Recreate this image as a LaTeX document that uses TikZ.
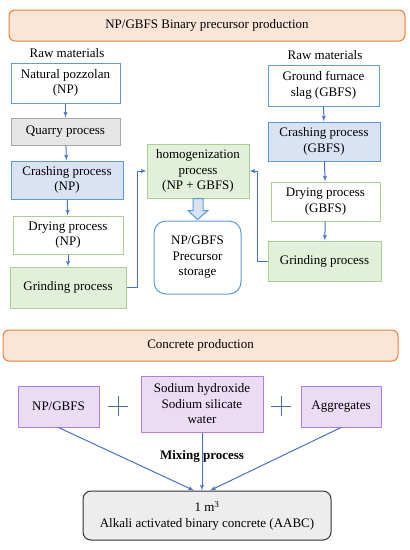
\documentclass[tikz,border=0pt]{standalone}
\usepackage{fontspec}
\setmainfont{Liberation Serif}
\usetikzlibrary{shapes,positioning,arrows,calc}

\definecolor{orangeline}{HTML}{ED7D31}
\definecolor{orangefill}{HTML}{FBE5D6}
\definecolor{blueline}{HTML}{5B9BD5}
\definecolor{bluefill}{HTML}{DAE3F3}
\definecolor{greenline}{HTML}{A9D18E}
\definecolor{greenfill}{HTML}{E2F0D9}
\definecolor{greyline}{HTML}{A6A6A6}
\definecolor{greyfill}{HTML}{E7E6E6}
\definecolor{purpleline}{HTML}{B77BE0}
\definecolor{purplefill}{HTML}{EADCF3}
\definecolor{arrowblue}{HTML}{4472C4}
\definecolor{plusblue}{HTML}{4A6FA5}

\begin{document}
\begin{tikzpicture}[x=1pt, y=-1pt, font=\fontsize{13}{15.5}\selectfont]
  \tikzstyle{title}=[rectangle, draw=orangeline, fill=orangefill, line width=1pt, rounded corners=6pt, inner sep=0pt]
  \tikzstyle{rawbox}=[rectangle, draw=blueline, fill=white, line width=1pt, align=center, inner sep=0pt]
  \tikzstyle{greybox}=[rectangle, draw=greyline, fill=greyfill, line width=1pt, align=center, inner sep=0pt]
  \tikzstyle{crushbox}=[rectangle, draw=blueline, fill=bluefill, line width=1pt, align=center, inner sep=0pt]
  \tikzstyle{drybox}=[rectangle, draw=greenline, fill=white, line width=1pt, align=center, inner sep=0pt]
  \tikzstyle{grindbox}=[rectangle, draw=greenline, fill=greenfill, line width=1pt, align=center, inner sep=0pt]
  \tikzstyle{storebox}=[rectangle, draw=blueline, fill=white, line width=1pt, rounded corners=12pt, align=center, inner sep=0pt]
  \tikzstyle{mixbox}=[rectangle, draw=purpleline, fill=purplefill, line width=1pt, align=center, inner sep=0pt]
  \tikzstyle{finalbox}=[rectangle, draw=black!80, fill=greyfill!70, line width=1pt, rounded corners=8pt, align=center, inner sep=0pt]
  \tikzstyle{plussign}=[minimum width=20pt, minimum height=20pt, inner sep=0pt,
    path picture={\draw[plusblue, line width=1pt]
      (path picture bounding box.north) -- (path picture bounding box.south)
      (path picture bounding box.west) -- (path picture bounding box.east);}]
  \tikzstyle{line} = [draw, arrowblue, line width=1pt, -latex']
  \tikzstyle{hollow} = [draw=blueline, fill=bluefill, line width=1pt, line join=miter]

  \useasboundingbox (0,0) rectangle (410,550);

  % precursor production
  \node [title, minimum width=396pt, minimum height=31pt] (prodtitle) at (207,25.5) {NP/GBFS Binary precursor production};
  \node (rawleft) at (67,53) {Raw materials};
  \node (rawright) at (325,55) {Raw materials};

  % natural pozzolan line
  \node [rawbox, minimum width=109pt, minimum height=40pt] (np) at (65.5,83) {Natural pozzolan\\(NP)};
  \node [greybox, minimum width=109pt, minimum height=27pt] (quarry) at (65.5,131.5) {Quarry process};
  \node [crushbox, minimum width=112pt, minimum height=38pt] (crush_np) at (67,180) {Crashing process\\(NP)};
  \node [drybox, minimum width=110pt, minimum height=38pt] (dry_np) at (68,235) {Drying process\\(NP)};
  \node [grindbox, minimum width=116pt, minimum height=41pt] (grind_np) at (68,287.5) {Grinding process};

  % slag line
  \node [rawbox, minimum width=111pt, minimum height=41pt] (gbfs) at (323.5,85.5) {Ground furnace\\slag (GBFS)};
  \node [crushbox, minimum width=112pt, minimum height=39pt] (crush_gbfs) at (324,141.5) {Crashing process\\(GBFS)};
  \node [drybox, minimum width=109pt, minimum height=39pt] (dry_gbfs) at (325.5,201.5) {Drying process\\(GBFS)};
  \node [grindbox, minimum width=113pt, minimum height=40pt] (grind_gbfs) at (324.5,261) {Grinding process};

  % middle
  \node [grindbox, minimum width=102pt, minimum height=54pt] (homog) at (198,171) {homogenization\\process\\(NP + GBFS)};
  \node [storebox, minimum width=87pt, minimum height=73pt] (storage) at (197.5,257.5) {NP/GBFS\\Precursor\\storage};

  \draw [line] (np) to (quarry);
  \draw [line] (quarry) to (crush_np);
  \draw [line] (crush_np) to (dry_np);
  \draw [line] (dry_np) to (grind_np);
  \draw [line] (gbfs) to (crush_gbfs);
  \draw [line] (crush_gbfs) to (dry_gbfs);
  \draw [line] (dry_gbfs) to (grind_gbfs);
  \draw [line] (grind_np.east) -- ++(11,0) |- (homog.west);
  \draw [line] (grind_gbfs.west) -- ++(-10,0) |- (homog.east);
  \draw [hollow] ($(homog.south)+(-5,0)$) -- ($(homog.south)+(5,0)$) -- ($(homog.south)+(5,12)$)
    -- ($(homog.south)+(10,12)$) -- ($(storage.north)+(0,-1)$) -- ($(homog.south)+(-10,12)$)
    -- ($(homog.south)+(-5,12)$) -- cycle;

  % concrete production
  \node [title, minimum width=395pt, minimum height=31pt] (concretetitle) at (200.5,345.5) {Concrete production};
  \node [mixbox, minimum width=81pt, minimum height=41pt] (binder) at (58.5,406.5) {NP/GBFS};
  \node [plussign] (plus_a) at (118,406) {};
  \node [mixbox, minimum width=122pt, minimum height=56pt] (activator) at (202,404) {Sodium hydroxide\\Sodium silicate\\water};
  \node [plussign] (plus_b) at (281,406) {};
  \node [mixbox, minimum width=80pt, minimum height=41pt] (aggregates) at (341,406.5) {Aggregates};
  \node [finalbox, minimum width=248pt, minimum height=49pt] (aabc) at (207,515.5) {1 m\textsuperscript{3}\\Alkali activated binary concrete (AABC)};
  \node [font=\fontsize{13}{15.5}\selectfont\bfseries] (mixing) at (202,456) {Mixing process};

  \draw [line] (binder.south) to ($(aabc.north)+(-13,0)$);
  \draw [line] (activator.south) to (aabc.north -| activator.south);
  \draw [line] (aggregates.south) to ($(aabc.north)+(3,0)$);
\end{tikzpicture}
\end{document}
